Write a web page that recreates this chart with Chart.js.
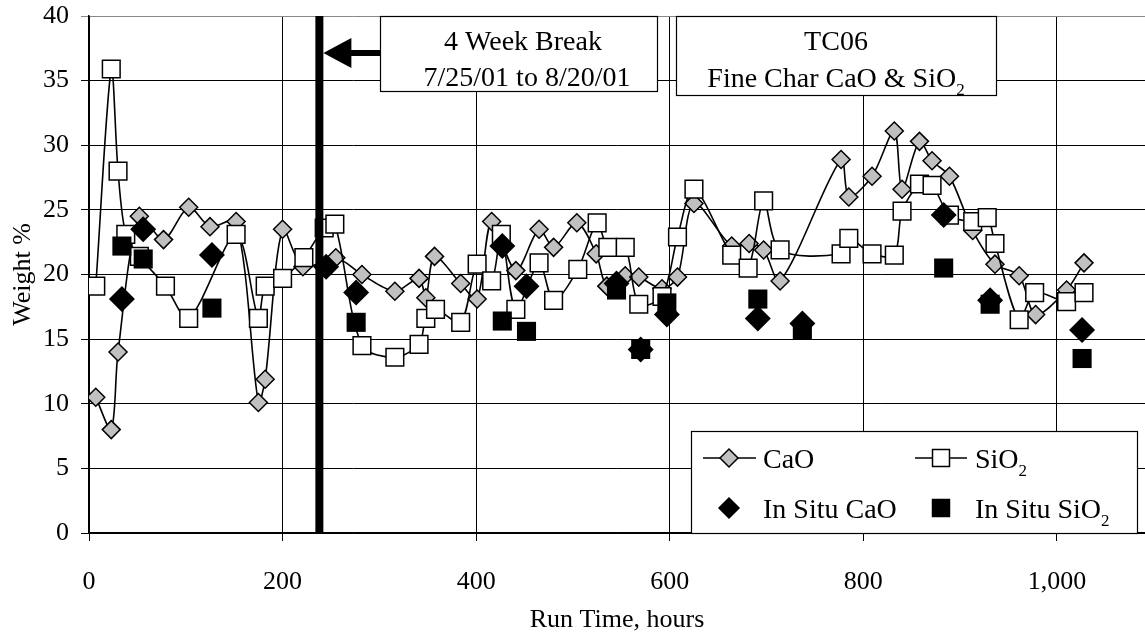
<!DOCTYPE html>
<html>
<head>
<meta charset="utf-8">
<title>TC06 Fine Char CaO & SiO2</title>
<script src="https://cdn.jsdelivr.net/npm/chart.js@4.4.1/dist/chart.umd.min.js"></script>
<style>
  html, body { margin: 0; padding: 0; background: #fff; }
  #wrap { position: relative; width: 1145px; height: 637px; }
</style>
</head>
<body>
<div id="wrap"><canvas id="chart"></canvas></div>
<script>
// run time (hours) and weight %
const caoHours = [7, 23, 30, 52, 77, 103, 125, 152, 175, 182, 200, 221, 255, 282, 316, 341, 348, 357, 384, 401,
  416, 441, 465, 480, 504, 524, 535, 554, 568, 592, 608, 625, 664, 682, 697, 714, 777, 785, 809, 832,
  840, 858, 871, 889, 913, 936, 961, 978, 1010, 1028];
const caoValues = [10.5, 8.0, 14.0, 24.5, 22.7, 25.2, 23.7, 24.1, 10.1, 11.9, 23.5, 20.6, 21.3, 20.0, 18.7, 19.7, 18.2, 21.4, 19.3, 18.1,
  24.1, 20.3, 23.5, 22.1, 24.0, 21.6, 19.1, 19.9, 19.8, 18.9, 19.8, 25.5, 22.2, 22.4, 21.9, 19.5, 28.9, 26.0, 27.6, 31.1,
  26.6, 30.3, 28.8, 27.6, 23.4, 20.8, 19.9, 16.9, 18.8, 20.9];

const sio2Hours = [7, 23, 30, 38, 52, 79, 103, 152, 175, 182, 200, 222, 243, 254, 282, 316, 341, 348, 358, 384,
  401, 416, 426, 441, 465, 480, 505, 525, 536, 554, 568, 592, 608, 625, 664, 681, 697, 714, 777, 785,
  809, 832, 840, 858, 871, 889, 913, 928, 936, 961, 977, 1010, 1028];
const sio2Values = [19.1, 35.9, 28.0, 23.1, 21.4, 19.1, 16.6, 23.1, 16.6, 19.1, 19.7, 21.3, 23.6, 23.9, 14.5, 13.6, 14.6, 16.6, 17.3, 16.3,
  20.8, 19.5, 23.1, 17.3, 20.9, 18.0, 20.4, 24.0, 22.1, 22.1, 17.7, 18.3, 22.9, 26.6, 21.5, 20.5, 25.7, 21.9, 21.6, 22.8,
  21.6, 21.5, 24.9, 27.0, 26.9, 24.6, 24.1, 24.4, 22.4, 16.5, 18.6, 17.9, 18.6];

const inSituHours = [34, 56, 127, 245, 276, 427, 452, 545, 570, 597, 691, 737, 883, 931, 1026];
const inSituCaO = [18.1, 23.5, 21.5, 20.6, 18.6, 22.2, 19.1, 19.3, 14.2, 16.9, 16.6, 16.2, 24.6, 18.0, 15.7];
const inSituSiO2 = [22.2, 21.2, 17.4, null, 16.3, 16.4, 15.6, 18.8, 14.2, 17.8, 18.1, 15.7, 20.5, 17.7, 13.5];

const breakHour = 238;

const FONT = "'Liberation Serif', 'Times New Roman', serif";

const toPoints = (xs, ys) => xs.map((x, i) => ({ x, y: ys[i] })).filter(p => p.y !== null);

function drawSub(ctx, main, sub, x, y, size, align) {
  ctx.font = `${size}px ${FONT}`;
  const wMain = ctx.measureText(main).width;
  ctx.font = `${Math.round(size * 0.62)}px ${FONT}`;
  const wSub = ctx.measureText(sub).width;
  let left = x;
  if (align === 'center') left = x - (wMain + wSub) / 2;
  ctx.textAlign = 'left';
  ctx.font = `${size}px ${FONT}`;
  ctx.fillText(main, left, y);
  ctx.font = `${Math.round(size * 0.62)}px ${FONT}`;
  ctx.fillText(sub, left + wMain, y + size * 0.28);
}

const annotations = {
  id: 'annotations',
  afterDraw(chart) {
    const { ctx } = chart;
    const xs = chart.scales.x;
    ctx.save();
    ctx.fillStyle = '#000';
    ctx.textBaseline = 'alphabetic';

    // text boxes at top
    const boxes = [[380, 16, 277, 75], [676, 16, 320, 79]];
    boxes.forEach(([bx, by, bw, bh]) => {
      ctx.fillStyle = '#fff';
      ctx.fillRect(bx, by, bw, bh);
      ctx.strokeStyle = '#000';
      ctx.lineWidth = 1.2;
      ctx.strokeRect(bx + 0.5, by + 0.5, bw, bh);
    });
    ctx.fillStyle = '#000';
    ctx.textAlign = 'center';
    ctx.font = `28px ${FONT}`;
    ctx.fillText('4 Week Break', 523, 50);
    ctx.fillText('7/25/01 to 8/20/01', 527, 86);
    ctx.fillText('TC06', 836, 50);
    drawSub(ctx, 'Fine Char CaO & SiO', '2', 836, 87, 28, 'center');

    // arrow pointing at the break line
    const tip = xs.getPixelForValue(breakHour) + 4;
    const ay = 53;
    ctx.beginPath();
    ctx.moveTo(tip, ay);
    ctx.lineTo(tip + 28, ay - 15);
    ctx.lineTo(tip + 28, ay + 15);
    ctx.closePath();
    ctx.fill();
    ctx.fillRect(tip + 27, ay - 3, 380 - tip - 27, 6);

    // legend
    const lx = 691, ly = 431, lw = 446, lh = 102;
    ctx.fillStyle = '#fff';
    ctx.fillRect(lx, ly, lw, lh);
    ctx.strokeStyle = '#000';
    ctx.lineWidth = 1.2;
    ctx.strokeRect(lx + 0.5, ly + 0.5, lw, lh);

    const drawMarker = (style, r, fill, px, py, lineFrom, lineTo) => {
      if (lineFrom !== undefined) {
        ctx.strokeStyle = '#000';
        ctx.lineWidth = 1.6;
        ctx.beginPath();
        ctx.moveTo(lineFrom, py);
        ctx.lineTo(lineTo, py);
        ctx.stroke();
      }
      ctx.fillStyle = fill;
      ctx.strokeStyle = '#000';
      ctx.lineWidth = 1.5;
      Chart.helpers.drawPoint(ctx, { pointStyle: style, radius: r, borderWidth: 1.5, rotation: 0 }, px, py);
    };
    drawMarker('rectRot', 9, '#c0c0c0', 729, 458, 703, 756);
    drawMarker('rect', 12, '#fff', 941, 458, 915, 967);
    drawMarker('rectRot', 10, '#000', 729, 508);
    drawMarker('rect', 12, '#000', 941, 508);

    ctx.fillStyle = '#000';
    ctx.textAlign = 'left';
    ctx.font = `28px ${FONT}`;
    ctx.fillText('CaO', 763, 468);
    drawSub(ctx, 'SiO', '2', 975, 468, 28, 'left');
    ctx.font = `28px ${FONT}`;
    ctx.fillText('In Situ CaO', 763, 518);
    drawSub(ctx, 'In Situ SiO', '2', 975, 518, 28, 'left');
    ctx.restore();
  }
};

const ctx = document.getElementById('chart');

new Chart(ctx, {
  type: 'scatter',
  data: {
    datasets: [
      {
        label: 'break',
        data: [{ x: breakHour, y: 0 }, { x: breakHour, y: 40 }],
        showLine: true,
        borderColor: '#000',
        borderWidth: 8,
        pointRadius: 0,
        borderCapStyle: 'butt',
      },
      {
        label: 'In Situ SiO2',
        data: toPoints(inSituHours, inSituSiO2),
        pointStyle: 'rect',
        pointRadius: 13.5,
        backgroundColor: '#000',
        borderColor: '#000',
        borderWidth: 0,
      },
      {
        label: 'In Situ CaO',
        data: toPoints(inSituHours, inSituCaO),
        pointStyle: 'rectRot',
        pointRadius: 13,
        backgroundColor: '#000',
        borderColor: '#000',
        borderWidth: 0,
      },
      {
        label: 'SiO2',
        data: toPoints(sio2Hours, sio2Values),
        showLine: true,
        tension: 0.3,
        borderColor: '#000',
        borderWidth: 1.6,
        pointStyle: 'rect',
        pointRadius: 12.5,
        pointBackgroundColor: '#fff',
        pointBorderColor: '#000',
        pointBorderWidth: 1.5,
      },
      {
        label: 'CaO',
        data: toPoints(caoHours, caoValues),
        showLine: true,
        tension: 0.3,
        borderColor: '#000',
        borderWidth: 1.6,
        pointStyle: 'rectRot',
        pointRadius: 9,
        pointBackgroundColor: '#c0c0c0',
        pointBorderColor: '#000',
        pointBorderWidth: 1.5,
      },
    ],
  },
  options: {
    responsive: true,
    maintainAspectRatio: false,
    animation: false,
    events: [],
    layout: { autoPadding: false, padding: { top: 16, right: 0, left: 0, bottom: 0 } },
    plugins: {
      legend: { display: false },
      tooltip: { enabled: false },
    },
    scales: {
      x: {
        type: 'linear',
        min: 0,
        max: 1091,
        afterFit: scale => {
          scale.height = 104;
          scale.paddingLeft = 0;
          scale.paddingRight = 0;
        },
        ticks: {
          stepSize: 200,
          includeBounds: false,
          color: '#000',
          padding: 26,
          maxRotation: 0,
          font: { family: FONT, size: 26 },
          callback: v => v.toLocaleString('en-US'),
        },
        grid: { color: '#000', lineWidth: 1, tickLength: 8 },
        border: { color: '#000', width: 1.5 },
        title: {
          display: true,
          text: 'Run Time, hours',
          color: '#000',
          font: { family: FONT, size: 26 },
          padding: { top: 0, bottom: 1 },
        },
      },
      y: {
        min: 0,
        max: 40,
        afterFit: scale => {
          scale.width = 89;
          scale.paddingTop = 0;
          scale.paddingBottom = 0;
        },
        ticks: {
          stepSize: 5,
          color: '#000',
          padding: 12,
          font: { family: FONT, size: 26 },
        },
        grid: {
          color: c => (c.tick && c.tick.value === 40 ? '#888' : '#000'),
          lineWidth: 1,
          tickLength: 8,
        },
        border: { color: '#000', width: 1.5 },
        title: {
          display: true,
          text: 'Weight %',
          color: '#000',
          font: { family: FONT, size: 26 },
          padding: { top: 8, bottom: 0 },
        },
      },
    },
  },
  plugins: [annotations],
});
</script>
</body>
</html>
